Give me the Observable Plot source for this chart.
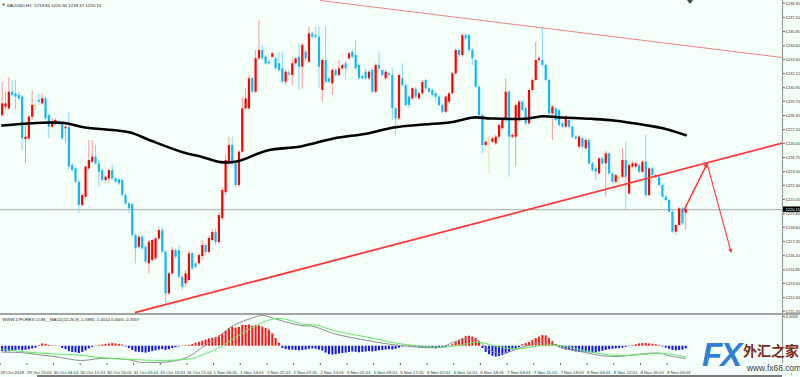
<!DOCTYPE html>
<html><head><meta charset="utf-8">
<script src="https://cdn.jsdelivr.net/npm/d3@7"></script>
<script src="https://cdn.jsdelivr.net/npm/@observablehq/plot@0.6"></script>
<style>
html,body{margin:0;padding:0;background:#f4fff9;}
#chart{position:relative;width:800px;height:377px;overflow:hidden;background:#f4fff9;font-family:"Liberation Sans",Arial,sans-serif;}
#chart svg{display:block;}
.sep{height:2px;background:#a4a4a4;}
.bottomline{position:absolute;left:37px;top:375px;width:745px;height:2px;background:#7a7a7a;}
.shift{position:absolute;left:687px;top:0;width:0;height:0;border-left:3px solid transparent;border-right:3px solid transparent;border-top:4px solid #444;}
.logo{position:absolute;left:702px;top:336px;width:98px;height:41px;}
.logo .fx{position:absolute;left:0;top:0;font:italic bold 33px "Liberation Sans",Arial,sans-serif;color:#2f7fd6;letter-spacing:-2px;text-shadow:1px 1px 0 #fff,-1px -1px 0 #fff;}
.logo .cn{position:absolute;left:41px;top:4px;font:bold 14px "Noto Sans CJK SC",sans-serif;color:#7b2a20;white-space:nowrap;}
.logo .url{position:absolute;left:45px;top:27px;font:8.4px "Liberation Sans",Arial,sans-serif;color:#3a3a3a;white-space:nowrap;}
</style></head>
<body><div id="chart"></div>
<script>
// ---------- data ----------
const symbolTitle = "XAUUSD,H1  1219.85 1220.56 1218.37 1220.15";
const macdTitle = "WWW.17FOREX.COM__MACD(12,26,9) -1.5890 -1.4014 0.0000 -0.3557";
const lastPrice = 1220.15;

const open = [
1228.45,1229.18,1229.04,1230.51,1230.37,1230.22,1230.07,1226.34,1226.40,1228.30,
1229.33,1229.78,1229.48,1229.92,1228.45,1227.42,1227.72,1227.92,1227.72,1227.28,
1227.42,1224.05,1223.75,1222.57,1220.52,1221.25,1223.75,1224.34,1224.78,1224.19,
1223.60,1222.72,1222.87,1223.60,1222.87,1222.78,1222.72,1221.40,1220.67,1220.61,
1217.87,1216.84,1217.72,1216.84,1215.38,1215.67,1215.82,1217.58,1218.32,1216.40,
1212.73,1214.50,1216.55,1216.55,1214.20,1213.62,1213.91,1216.26,1215.38,1215.38,
1216.02,1216.99,1216.38,1217.43,1218.14,1217.26,1219.37,1221.66,1224.19,1225.81,
1224.19,1222.28,1225.22,1229.04,1229.04,1231.69,1230.51,1233.45,1234.18,1233.59,
1233.15,1233.59,1233.45,1233.01,1232.57,1231.39,1232.18,1231.98,1233.01,1233.59,
1232.71,1234.03,1233.15,1235.65,1235.50,1235.35,1230.66,1233.30,1231.69,1231.25,
1232.42,1231.98,1232.57,1233.01,1233.45,1234.03,1233.74,1232.86,1231.89,1232.27,
1231.69,1232.42,1230.51,1232.86,1232.42,1231.69,1232.13,1231.98,1229.04,1228.16,
1231.69,1231.10,1230.07,1229.92,1230.74,1229.92,1230.37,1231.54,1230.81,1230.66,
1230.37,1230.07,1229.33,1228.74,1229.63,1230.37,1232.13,1234.18,1233.74,1235.50,
1235.50,1234.18,1233.30,1230.95,1228.45,1225.81,1226.40,1226.10,1225.96,1226.54,
1227.28,1228.01,1230.51,1226.54,1226.54,1228.01,1229.63,1229.04,1227.72,1230.66,
1231.54,1233.30,1233.30,1232.86,1231.54,1228.60,1229.04,1228.89,1227.72,1227.42,
1228.01,1227.42,1226.54,1225.66,1226.40,1225.52,1226.25,1224.19,1223.75,1223.31,
1224.63,1224.19,1225.08,1223.31,1222.57,1223.01,1223.01,1224.49,1221.55,1223.90,
1223.90,1224.05,1223.45,1224.34,1221.40,1223.75,1223.01,1223.01,1222.28,1221.25,
1220.96,1219.93,1218.17,1218.76,1220.23,1219.85];
const high = [
1231.39,1230.51,1231.83,1231.54,1231.54,1230.51,1230.22,1227.75,1228.45,1230.66,
1229.78,1230.37,1230.37,1230.07,1228.60,1228.19,1228.16,1228.01,1227.86,1227.57,
1228.74,1224.19,1223.90,1222.72,1221.55,1224.05,1226.25,1226.25,1225.81,1224.49,
1223.75,1223.16,1223.75,1224.05,1223.01,1222.93,1222.87,1221.55,1220.81,1220.67,
1218.02,1217.87,1217.87,1216.99,1217.43,1217.57,1217.72,1218.61,1218.61,1216.55,
1214.64,1216.84,1216.70,1216.99,1214.35,1214.79,1216.55,1216.40,1215.52,1216.26,
1217.43,1217.14,1217.87,1218.40,1218.45,1219.90,1222.13,1224.93,1226.54,1226.54,
1224.34,1225.37,1230.07,1230.81,1231.98,1231.83,1234.18,1236.83,1234.62,1233.74,
1233.30,1234.04,1233.59,1234.03,1234.03,1232.42,1232.42,1233.45,1233.59,1234.77,
1234.80,1234.18,1236.24,1235.80,1236.24,1236.24,1233.48,1236.24,1231.83,1232.60,
1232.57,1233.30,1233.01,1233.21,1234.03,1234.18,1235.06,1233.01,1232.04,1232.57,
1232.42,1232.57,1233.01,1234.03,1232.57,1232.42,1232.27,1232.57,1229.19,1232.16,
1233.01,1231.25,1230.22,1230.95,1230.95,1230.51,1231.54,1231.69,1230.95,1230.81,
1230.51,1230.22,1229.48,1230.22,1230.51,1232.27,1234.33,1234.33,1235.65,1235.65,
1235.65,1234.36,1233.45,1231.10,1228.63,1226.25,1226.54,1226.54,1226.69,1227.72,
1228.16,1231.69,1230.66,1226.84,1229.51,1229.78,1229.78,1229.19,1230.81,1231.69,
1234.91,1233.59,1236.10,1233.01,1231.69,1229.33,1229.19,1229.04,1227.86,1228.45,
1228.16,1227.57,1226.69,1226.69,1226.54,1226.40,1226.40,1224.34,1223.96,1224.78,
1224.78,1225.28,1225.22,1223.45,1223.31,1223.16,1225.54,1226.10,1224.19,1224.40,
1224.34,1224.19,1224.49,1226.69,1223.90,1223.90,1223.31,1223.16,1222.43,1221.40,
1221.11,1220.08,1218.84,1220.37,1220.37,1220.56];
const low = [
1228.28,1228.89,1228.89,1230.07,1228.89,1229.78,1225.37,1224.22,1226.25,1228.01,
1228.89,1229.33,1229.33,1228.01,1226.42,1227.28,1227.57,1227.57,1226.25,1225.96,
1223.60,1223.45,1222.43,1219.79,1220.37,1221.11,1223.60,1224.19,1224.05,1222.13,
1222.57,1222.43,1222.43,1222.72,1222.43,1222.28,1221.25,1220.52,1219.79,1217.72,
1215.38,1216.70,1216.55,1215.38,1214.50,1215.52,1215.67,1217.43,1216.26,1211.85,
1212.59,1214.35,1215.82,1214.06,1213.03,1213.32,1213.76,1214.79,1214.94,1215.23,
1215.67,1216.11,1216.20,1217.28,1216.99,1217.10,1219.20,1221.40,1224.04,1224.04,
1222.13,1222.10,1225.10,1228.89,1228.89,1230.37,1230.37,1233.30,1233.30,1232.87,
1232.87,1233.45,1232.43,1232.27,1231.25,1231.10,1231.89,1231.10,1232.87,1230.66,
1230.81,1233.30,1233.01,1235.21,1235.24,1230.81,1229.63,1231.27,1231.25,1230.22,
1231.83,1231.89,1232.43,1231.54,1233.30,1233.45,1232.42,1231.54,1231.54,1231.54,
1231.54,1230.37,1230.37,1232.42,1231.83,1231.54,1231.83,1228.01,1226.69,1228.01,
1230.95,1229.19,1229.04,1229.78,1229.92,1229.78,1230.22,1230.66,1230.37,1230.07,
1229.63,1229.19,1228.60,1228.60,1229.48,1230.22,1231.98,1233.59,1233.57,1235.06,
1234.04,1232.86,1230.81,1228.30,1225.08,1225.66,1223.31,1225.96,1225.81,1226.40,
1227.13,1227.83,1223.01,1226.40,1223.90,1227.86,1228.74,1227.57,1227.57,1230.51,
1231.45,1233.15,1232.68,1231.39,1228.45,1226.25,1227.86,1227.42,1227.28,1227.28,
1227.28,1226.40,1226.25,1225.52,1225.52,1225.37,1224.04,1223.45,1222.72,1223.16,
1224.04,1221.25,1223.16,1222.43,1222.43,1221.84,1222.90,1220.08,1221.40,1223.75,
1223.75,1223.31,1223.31,1221.22,1221.25,1223.01,1222.87,1222.13,1221.11,1220.81,
1219.79,1218.02,1217.87,1218.61,1218.76,1218.37];
const close = [
1229.48,1229.48,1230.51,1230.22,1230.07,1229.92,1226.40,1226.54,1228.30,1229.33,
1229.33,1229.63,1229.92,1228.16,1227.42,1227.86,1228.01,1227.72,1226.40,1227.42,
1223.90,1223.60,1222.57,1220.52,1221.40,1223.90,1224.49,1224.78,1224.19,1223.45,
1222.72,1223.01,1223.60,1222.87,1222.57,1222.43,1221.40,1220.67,1220.23,1217.87,
1216.70,1217.72,1216.70,1215.52,1217.28,1217.43,1217.58,1218.32,1216.40,1212.73,
1214.50,1216.55,1215.96,1214.20,1213.32,1214.50,1216.26,1214.94,1215.08,1216.11,
1216.99,1216.38,1217.61,1218.14,1217.26,1219.64,1221.84,1224.49,1225.81,1224.19,
1222.28,1225.22,1229.04,1229.92,1231.69,1230.51,1233.45,1234.18,1233.45,1233.01,
1233.01,1233.89,1232.57,1232.42,1231.39,1232.27,1232.04,1233.01,1233.45,1232.71,
1234.62,1233.45,1235.65,1235.35,1235.35,1232.71,1233.30,1231.39,1231.39,1232.42,
1231.98,1232.57,1232.86,1232.57,1233.89,1233.59,1232.57,1231.69,1231.69,1231.69,
1232.27,1230.51,1232.86,1232.57,1231.98,1232.27,1231.98,1229.04,1228.16,1231.98,
1231.10,1229.33,1229.33,1230.81,1230.07,1230.37,1231.36,1230.81,1230.51,1230.22,
1230.07,1229.33,1228.74,1230.07,1230.37,1232.13,1234.18,1233.74,1235.50,1235.21,
1234.18,1233.45,1230.95,1228.45,1225.81,1226.10,1226.40,1226.40,1226.54,1227.57,
1228.01,1230.51,1226.54,1226.69,1229.33,1229.63,1228.89,1227.72,1230.66,1231.54,
1233.30,1233.45,1232.86,1231.54,1228.60,1229.19,1228.01,1227.57,1227.42,1228.30,
1227.42,1226.54,1226.40,1226.54,1225.66,1226.25,1224.19,1223.60,1223.45,1224.63,
1224.19,1225.08,1223.31,1222.57,1223.16,1223.01,1224.49,1223.01,1224.05,1224.19,
1224.19,1223.45,1224.34,1221.40,1223.75,1223.16,1223.16,1222.28,1221.25,1220.96,
1219.93,1218.17,1218.76,1220.23,1218.91,1220.15];

// moving average (read at points along the black curve): bar index, price
const maIdx = [0,9,14.5,19.6,24.4,34.6,38.5,44.5,54.4,59.5,65.5,70.6,79.5,89.5,99.4,109.6,117.4,126.4,134.5,141.4,146.5,156.4,162.4,166.6,176.5,183.4,193.6,198.4,205];
const maVal = [1227.57,1227.77,1227.84,1227.75,1227.42,1227.13,1226.95,1226.25,1225.19,1224.84,1224.34,1224.42,1225.37,1225.72,1226.43,1226.87,1227.40,1227.66,1227.86,1228.28,1228.19,1228.16,1228.39,1228.30,1228.16,1228.01,1227.57,1227.31,1226.72];

// drawn trend lines and forecast arrows (bar index, price)
const upperLineIdx = [95.4, 234], upperLineVal = [1238.59, 1233.56];
const lowerLineIdx = [40, 234], lowerLineVal = [1211.09, 1226.03];
const arrowFromIdx = [204.4, 211.4], arrowFromVal = [1220.08, 1224.19];
const arrowToIdx = [211.4, 218.6], arrowToVal = [1224.19, 1216.40];

// MACD histogram per bar
const macdHist = [
-0.7,-0.75,-0.7,-0.6,-0.55,-0.5,-0.6,-0.55,-0.45,-0.35,-0.25,
0.1,0.3,0.25,0.1,0.05,0.05,0.03,
-0.3,-0.45,-0.7,-0.8,-0.85,-0.95,-0.8,-0.6,
-0.35,-0.15,0.05,0.1,
0.15,0.25,0.3,0.35,0.3,0.25,0.15,
-0.1,-0.3,-0.55,-0.75,-0.8,-0.85,-0.9,-0.8,-0.7,-0.6,-0.5,
-0.45,-0.55,-0.45,-0.3,-0.2,
-0.1,0.05,0.08,0.12,
0.25,0.4,0.5,0.65,0.8,0.95,1.05,1.15,
1.35,1.6,1.95,2.3,2.5,2.35,2.45,2.7,2.7,2.75,2.6,2.7,2.65,2.5,2.3,2.1,
1.6,1.0,0.4,-0.3,
-0.45,-0.5,-0.5,-0.55,-0.6,-0.55,
-0.5,-0.4,-0.35,-0.4,-0.5,-0.65,
-0.9,-1.1,-1.15,-1.1,-1.0,-0.95,-0.9,-0.8,-0.75,-0.8,-0.85,-0.8,-0.75,-0.7,-0.75,-0.7,-0.6,-0.55,
-0.5,-0.45,-0.5,-0.4,-0.25,-0.1,0.05,0.08,0.05,-0.1,-0.2,-0.3,-0.3,-0.25,-0.3,-0.35,-0.3,-0.25,-0.15,-0.05,
0.2,0.5,0.8,1.0,1.25,1.3,1.2,1.0,0.6,
-0.3,-0.8,-1.1,-1.3,-1.4,-1.35,-1.2,-1.0,-0.8,
-0.5,-0.35,-0.2,
0.2,0.35,0.5,0.75,1.0,1.2,1.4,1.35,1.0,0.6,
0.2,-0.2,-0.35,-0.5,-0.55,-0.65,-0.75,-0.8,-0.8,-0.8,-0.85,-0.9,-0.85,-0.75,-0.65,
-0.55,-0.45,-0.4,-0.35,-0.3,-0.25,-0.15,-0.05,
0.1,0.2,0.3,0.35,0.35,0.3,0.25,0.2,0.1,
-0.1,-0.25,-0.4,-0.55,-0.6,-0.55,-0.5,-0.36];

// MACD main (grey) and signal (green) lines, read at points
const macdIdx = [0,5.5,10.6,17.5,23.5,29.5,37.6,41.5,45.4,50.5,55.6,59.5,64.6,69.4,74.5,78.1,83.5,89.5,93.4,99.4,109.6,119.5,131.5,135.4,139.6,142.6,145.6,149.5,154.6,159.4,163.6,167.5,174.4,179.5,184.6,189.4,194.5,197.5,199.6,205];
const macdVal = [-0.78,-0.82,-1.08,-1.47,-1.86,-1.6,-1.73,-2.12,-2.12,-1.99,-1.43,-0.3,1.17,2.7,3.61,4.0,3.35,2.7,2.57,1.65,0.74,0.09,-0.13,0.52,0.96,0.74,-0.34,-0.99,-0.34,0.31,0.52,-0.13,-0.78,-1.21,-1.34,-1.12,-0.91,-0.91,-1.21,-1.59];
const sigIdx = [0,10,19.6,24.4,30,40,47,52,57,59.5,64.6,69.4,74.5,79.6,82.6,86.5,89.5,94.6,99.4,109.6,119.5,131.5,136.6,142.6,149.5,154.6,161.5,167.5,174.4,184.6,194.5,199.6,205];
const sigVal = [-0.4,-0.85,-1.08,-1.21,-1.5,-1.75,-1.85,-1.8,-1.6,-1.21,-0.3,1.0,2.31,3.35,3.61,3.35,2.92,2.7,2.05,1.17,0.31,-0.13,0.09,0.52,-0.13,-0.34,0.09,0.09,-0.56,-1.21,-0.99,-0.99,-1.40];

// axes
const priceTicks = [1238.35,1237.10,1235.85,1234.60,1233.40,1232.15,1230.90,1229.70,1228.45,1227.20,1226.00,1224.75,1223.50,1222.30,1221.05,1219.80,1218.60,1217.35,1216.10,1214.85,1213.65,1212.40,1211.20];
const macdTicks = [4.0006, 0];
const macdTickLabels = ["4.0006", "0.00"];
const timeLabels = ["29 Oct 2018","29 Oct 20:01","30 Oct 04:01","30 Oct 12:01","30 Oct 20:01","31 Oct 05:01","31 Oct 13:01","31 Oct 21:01","1 Nov 06:01","1 Nov 14:01","1 Nov 22:01","2 Nov 07:01","2 Nov 15:01","5 Nov 01:01","5 Nov 09:01","5 Nov 17:01","6 Nov 02:01","6 Nov 10:01","6 Nov 18:01","7 Nov 03:01","7 Nov 11:01","7 Nov 19:01","8 Nov 04:01","8 Nov 12:01","8 Nov 20:01","9 Nov 05:01"];
const barsPerLabel = 8;

// ---------- build ----------
const xDomain = [-0.5, 234];
const candles = open.map((o, i) => ({i, o, h: high[i], l: low[i], c: close[i]}));
const kind = d => d.c > d.o ? "up" : d.c < d.o ? "down" : "doji";
const bodyColor = {up: "#ff0000", down: "#14b6f3", doji: "#f2cf1e"};
const wickColor = {up: "#f59a9a", down: "#86d5f6", doji: "#f3df86"};
const ma = maIdx.map((i, k) => ({i, v: maVal[k]}));
const upper = upperLineIdx.map((i, k) => ({i, v: upperLineVal[k]}));
const lower = lowerLineIdx.map((i, k) => ({i, v: lowerLineVal[k]}));
const arrows = arrowFromIdx.map((i, k) => ({x1: i, y1: arrowFromVal[k], x2: arrowToIdx[k], y2: arrowToVal[k], w: k === 0 ? 1.6 : 1.1}));
const hist = macdHist.map((h, i) => ({i, h}));
const macdLine = macdIdx.map((i, k) => ({i, v: macdVal[k]}));
const sigLine = sigIdx.map((i, k) => ({i, v: sigVal[k]}));
const tickIdx = timeLabels.map((_, k) => k * barsPerLabel);
const font = "Liberation Sans, Arial, sans-serif";
const axisFont = 4.0;

const main = Plot.plot({
  width: 800, height: 313,
  marginLeft: 0, marginRight: 18, marginTop: 0, marginBottom: 0,
  style: {background: "transparent", fontFamily: font, color: "#333"},
  x: {domain: xDomain, axis: null},
  y: {domain: [1211.0, 1238.59], axis: null},
  color: {type: "identity"},
  marks: [
    Plot.ruleY([lastPrice], {stroke: "#a9a9a9", strokeWidth: 1}),
    Plot.ruleX(candles, {x: "i", y1: "l", y2: "h", stroke: d => wickColor[kind(d)], strokeWidth: 1}),
    Plot.ruleX(candles.filter(d => kind(d) !== "doji"), {x: "i", y1: "o", y2: "c", stroke: d => bodyColor[kind(d)], strokeWidth: 2.2}),
    Plot.ruleY(candles.filter(d => kind(d) === "doji"), {y: "o", x1: d => d.i - 0.45, x2: d => d.i + 0.45, stroke: bodyColor.doji, strokeWidth: 1}),
    Plot.line(ma, {x: "i", y: "v", curve: "catmull-rom", stroke: "#000", strokeWidth: 2.6}),
    Plot.line(upper, {x: "i", y: "v", stroke: "#f08282", strokeWidth: 1, clip: true}),
    Plot.line(lower, {x: "i", y: "v", stroke: "#ff3636", strokeWidth: 1.8, clip: true}),
    Plot.arrow(arrows, {x1: "x1", y1: "y1", x2: "x2", y2: "y2", stroke: "#ff3a3a", strokeWidth: "w", headLength: 5, headAngle: 50}),
    Plot.ruleX([xDomain[1]], {stroke: "#9c9c9c", strokeWidth: 1.2}),
    Plot.axisY({anchor: "right", ticks: priceTicks, tickFormat: d => d.toFixed(2), tickSize: 2, tickPadding: 1, fontSize: axisFont, fill: "#333", stroke: "#666"}),
    Plot.rect([lastPrice], {x1: xDomain[1], x2: xDomain[1], y1: d => d - 0.24, y2: d => d + 0.24, insetLeft: 1, insetRight: -18, fill: "#000"}),
    Plot.text([lastPrice], {x: xDomain[1], y: d => d, text: d => d.toFixed(2), dx: 3, textAnchor: "start", fill: "#fff", fontSize: axisFont}),
    Plot.text([symbolTitle], {frameAnchor: "top-left", dx: 6, dy: 3, text: d => d, fontSize: 4.4, fill: "#222"}),
    Plot.text(["▼"], {frameAnchor: "top-left", dx: 1, dy: 3, text: d => d, fontSize: 4, fill: "#222"})
  ]
});

const macd = Plot.plot({
  width: 800, height: 62,
  marginLeft: 0, marginRight: 18, marginTop: 0, marginBottom: 14,
  style: {background: "transparent", fontFamily: font, color: "#333"},
  x: {domain: xDomain, axis: null},
  y: {domain: [-2.25, 4.0006], axis: null},
  color: {type: "identity"},
  marks: [
    Plot.ruleX(hist, {x: "i", y1: () => 0, y2: "h", stroke: d => d.h >= 0 ? "#ff1414" : "#1414ff", strokeWidth: 2}),
    Plot.line(macdLine, {x: "i", y: "v", curve: "catmull-rom", stroke: "#8c8c8c", strokeWidth: 1, clip: true}),
    Plot.line(sigLine, {x: "i", y: "v", curve: "catmull-rom", stroke: "#5fe85f", strokeWidth: 1, clip: true}),
    Plot.ruleX([xDomain[1]], {stroke: "#9c9c9c", strokeWidth: 1.2}),
    Plot.axisY({anchor: "right", ticks: macdTicks, tickFormat: (d) => macdTickLabels[macdTicks.indexOf(d)], tickSize: 2, tickPadding: 1, fontSize: axisFont, fill: "#333", stroke: "#666", dy: 1}),
    Plot.axisX({anchor: "bottom", ticks: tickIdx, tickFormat: d => timeLabels[Math.round(d / barsPerLabel)], tickSize: 2, tickPadding: 5, textAnchor: "start", dx: -2, fontSize: 4.4, fill: "#333", stroke: "#666"}),
    Plot.text([macdTitle], {frameAnchor: "top-left", dx: 2, dy: 3, text: d => d, fontSize: 4.2, fill: "#222"})
  ]
});

const root = document.getElementById("chart");
root.appendChild(main);
const sep = document.createElement("div"); sep.className = "sep"; root.appendChild(sep);
root.appendChild(macd);
root.insertAdjacentHTML("beforeend",
  '<div class="bottomline"></div><div class="shift"></div>' +
  '<div class="logo"><span class="fx">FX</span><span class="cn">外汇之家</span><span class="url">www.fx68.com</span></div>');
</script></body></html>
